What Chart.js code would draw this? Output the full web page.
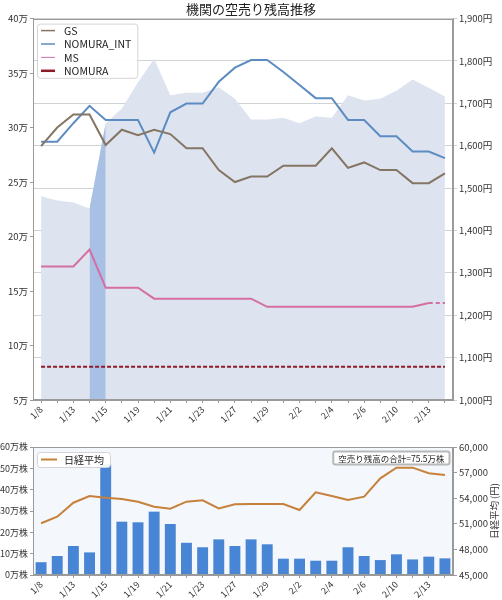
<!DOCTYPE html>
<html><head><meta charset="utf-8">
<script src="https://cdn.jsdelivr.net/npm/chart.js@4.4.1/dist/chart.umd.min.js"></script>
<style>
html,body{margin:0;padding:0;background:#fff;}
#wrap{position:relative;width:502px;height:600px;overflow:hidden;}
canvas{display:block;}
</style></head><body>
<div id="wrap">
<div style="position:absolute;left:0;top:0;width:502px;height:428px"><canvas id="c1" width="502" height="428"></canvas></div>
<div style="position:absolute;left:0;top:430px;width:502px;height:170px"><canvas id="c2" width="502" height="170"></canvas></div>
</div>
<script>
// ---------- data ----------
const dates = ['1/8','1/9','1/13','1/14','1/15','1/16','1/19','1/20','1/21','1/22','1/23','1/26','1/27','1/28','1/29','1/30','2/2','2/3','2/4','2/5','2/6','2/9','2/10','2/12','2/13','2/16'];
const shownTicks = ['1/8','1/13','1/15','1/19','1/21','1/23','1/27','1/29','2/2','2/4','2/6','2/10','2/13'];
// 空売り残高（万株）
const gs        = [28.3,30.0,31.2,31.2,28.4,29.8,29.3,29.8,29.4,28.1,28.1,26.1,25.0,25.5,25.5,26.5,26.5,26.5,28.1,26.3,26.8,26.1,26.1,24.9,24.9,25.8];
const nomuraInt = [28.7,28.7,30.4,32.0,30.7,30.7,30.7,27.7,31.4,32.2,32.2,34.2,35.5,36.2,36.2,35.1,33.9,32.7,32.7,30.7,30.7,29.2,29.2,27.8,27.8,27.2];
const ms        = [17.25,17.25,17.25,18.8,15.3,15.3,15.3,14.3,14.3,14.3,14.3,14.3,14.3,14.3,13.55,13.55,13.55,13.55,13.55,13.55,13.55,13.55,13.55,13.55,13.9,13.9];
const nomura    = [8.05,8.05,8.05,8.05,8.05,8.05,8.05,8.05,8.05,8.05,8.05,8.05,8.05,8.05,8.05,8.05,8.05,8.05,8.05,8.05,8.05,8.05,8.05,8.05,8.05,8.05];
// 株価（円）
const stock     = [1481,1471,1466,1452,1653,1688,1750,1805,1719,1725,1725,1738,1711,1662,1662,1666,1653,1669,1666,1719,1707,1711,1730,1756,1737,1716];
const highlightDates = ['1/14','1/15'];
// 空売り株数（万株）
const volume    = [6.0,8.9,13.6,10.6,51.9,25.0,24.7,29.7,23.9,15.1,13.0,16.7,13.6,16.7,14.4,7.65,7.65,6.7,6.7,13.0,8.9,7.0,9.7,7.3,8.6,7.8];
// 日経平均（円）
const nikkei    = [51060,51830,53470,54260,54060,53910,53590,53000,52770,53590,53750,52810,53280,53320,53320,53320,52620,54690,54260,53790,54180,56330,57580,57580,56920,56720];
const totalShort = 75.5; // 万株
const msDashedFrom = '2/16';

// ---------- setup ----------
const MAN = 10000;
const FONT = "'Noto Sans CJK JP','Noto Sans',sans-serif";
Chart.defaults.font.family = FONT;
Chart.defaults.color = '#333';
Chart.defaults.animation = false;

const AX = '#9a9a9a';
const xTickCb = function(v, i){ const l = dates[i]; return shownTicks.includes(l) ? l : ''; };

const framePlugin = {
  id:'frame',
  beforeDraw(chart, args, o){
    if (!o.bg) return;
    const {ctx, chartArea:a} = chart;
    ctx.save(); ctx.fillStyle = o.bg; ctx.fillRect(a.left, a.top, a.right-a.left, a.bottom-a.top); ctx.restore();
  },
  afterDraw(chart, args, o){
    const {ctx, chartArea:a} = chart;
    ctx.save(); ctx.strokeStyle = o.color || AX; ctx.lineWidth = 1;
    ctx.strokeRect(Math.round(a.left)+0.5, Math.round(a.top)+0.5, Math.round(a.right-a.left)-1, Math.round(a.bottom-a.top)-1);
    if (o.rightTitle){
      ctx.translate(chart.width-8, (a.top+a.bottom)/2);
      ctx.rotate(-Math.PI/2);
      ctx.fillStyle = '#333'; ctx.font = '9.5px ' + FONT;
      ctx.textAlign = 'center'; ctx.textBaseline = 'middle';
      ctx.fillText(o.rightTitle, 0, 0);
    }
    ctx.restore();
  }
};

function roundRect(ctx, x, y, w, h, r){
  ctx.beginPath();
  ctx.moveTo(x+r, y); ctx.lineTo(x+w-r, y); ctx.arcTo(x+w, y, x+w, y+r, r);
  ctx.lineTo(x+w, y+h-r); ctx.arcTo(x+w, y+h, x+w-r, y+h, r);
  ctx.lineTo(x+r, y+h); ctx.arcTo(x, y+h, x, y+h-r, r);
  ctx.lineTo(x, y+r); ctx.arcTo(x, y, x+r, y, r); ctx.closePath();
}

const boxLegendPlugin = {
  id:'boxLegend',
  afterDatasetsDraw(chart, args, o){
    const {ctx, chartArea:a} = chart;
    const items = chart.data.datasets.filter(d => d.inLegend);
    ctx.save();
    ctx.font = o.fontSize + 'px ' + FONT;
    let tw = 0; items.forEach(d => tw = Math.max(tw, ctx.measureText(d.label).width));
    const x = a.left + o.dx, y = a.top + o.dy;
    const w = o.textX + tw + 6, h = o.first*2 + o.row*(items.length-1);
    ctx.fillStyle = 'rgba(255,255,255,0.92)'; ctx.strokeStyle = '#d4d4d4'; ctx.lineWidth = 1;
    roundRect(ctx, x+0.5, y+0.5, w, h, 3); ctx.fill(); ctx.stroke();
    items.forEach((d, i) => {
      const cy = y + o.first + i*o.row;
      ctx.strokeStyle = d.borderColor; ctx.lineWidth = d.legendWidth || d.borderWidth; ctx.setLineDash([]);
      ctx.beginPath(); ctx.moveTo(x+o.lineX0, cy); ctx.lineTo(x+o.lineX1, cy); ctx.stroke();
      ctx.fillStyle = '#222'; ctx.textAlign = 'left'; ctx.textBaseline = 'middle';
      ctx.fillText(d.label, x+o.textX, cy+0.5);
    });
    if (o.note){
      ctx.font = o.noteSize + 'px ' + FONT;
      const nw = ctx.measureText(o.note).width + 10, nh = 13;
      const nx = a.right - 4 - nw, ny = a.top + 4;
      ctx.fillStyle = '#fff'; ctx.strokeStyle = '#b8b8b8';
      roundRect(ctx, nx+0.5, ny+0.5, nw, nh, 2); ctx.fill(); ctx.stroke();
      ctx.fillStyle = '#222'; ctx.textAlign = 'center'; ctx.textBaseline = 'middle';
      ctx.fillText(o.note, nx + nw/2 + 0.5, ny + nh/2 + 1);
    }
    ctx.restore();
  }
};

// ---------- top chart ----------
new Chart(document.getElementById('c1'), {
  type:'line',
  data:{
    labels: dates,
    datasets:[
      {label:'GS', data: gs.map(v=>v*MAN), yAxisID:'y', borderColor:'#857564', borderWidth:2, pointRadius:0, tension:0, order:1, inLegend:true, legendWidth:1.5},
      {label:'NOMURA_INT', data: nomuraInt.map(v=>v*MAN), yAxisID:'y', borderColor:'#5d8cc2', borderWidth:2, pointRadius:0, tension:0, order:2, inLegend:true, legendWidth:1.5},
      {label:'MS', data: ms.map(v=>v*MAN), yAxisID:'y', borderColor:'#d56ea5', borderWidth:2, pointRadius:0, tension:0, order:3, inLegend:true, legendWidth:1,
        segment:{borderDash: c => dates[c.p1DataIndex] === msDashedFrom ? [4,3] : undefined}},
      {label:'NOMURA', data: nomura.map(v=>v*MAN), yAxisID:'y', borderColor:'#8e1a2a', borderWidth:2, borderDash:[4,2], pointRadius:0, tension:0, order:4, inLegend:true, legendWidth:2.5},
      {label:'株価ハイライト', data: stock.map((v,i)=> highlightDates.includes(dates[i]) ? v : null), yAxisID:'y1', fill:'start', backgroundColor:'#a9c0e5', borderWidth:0, pointRadius:0, tension:0, order:19, spanGaps:false},
      {label:'株価', data: stock, yAxisID:'y1', fill:'start', backgroundColor:'#dde4ef', borderWidth:0, pointRadius:0, tension:0, order:20}
    ]
  },
  options:{
    responsive:false, animation:false,
    layout:{padding:0},
    plugins:{
      legend:{display:false}, tooltip:{enabled:false},
      title:{display:true, text:'機関の空売り残高推移', font:{size:13, weight:'normal'}, color:'#222', padding:{top:1, bottom:2}},
      frame:{color:AX},
      boxLegend:{dx:4, dy:5, fontSize:10.5, first:7, row:13.4, lineX0:4, lineX1:18, textX:27}
    },
    scales:{
      x:{type:'category', offset:true,
         grid:{display:true, drawOnChartArea:false, offset:false, tickLength:3, color:AX},
         border:{color:AX},
         ticks:{autoSkip:false, maxRotation:45, minRotation:45, font:{size:9}, padding:1, color:'#333', callback:xTickCb},
         afterFit(s){ s.height = 28; }},
      y:{position:'left', min:50000, max:400000,
         ticks:{stepSize:50000, callback:v => (v/MAN)+'万', font:{size:9.5}, padding:2, color:'#333'},
         grid:{drawOnChartArea:false, tickLength:3, color:AX}, border:{color:AX},
         afterFit(s){ s.width = 33; }},
      y1:{position:'right', min:1000, max:1900,
         ticks:{stepSize:100, callback:v => v.toLocaleString('en-US')+'円', font:{size:9.5}, padding:2, color:'#333'},
         grid:{color:'#cfd3d8', tickLength:4}, border:{color:AX},
         afterFit(s){ s.width = 49; }}
    }
  },
  plugins:[framePlugin, boxLegendPlugin]
});

// ---------- bottom chart ----------
new Chart(document.getElementById('c2'), {
  type:'bar',
  data:{
    labels: dates,
    datasets:[
      {type:'line', label:'日経平均', data: nikkei, yAxisID:'y1', borderColor:'#c7813b', borderWidth:2, pointRadius:0, tension:0, order:0, inLegend:true, legendWidth:2},
      {type:'bar', label:'空売り株数', data: volume.map(v=>v*MAN), yAxisID:'y', backgroundColor:'#4886d5', barPercentage:0.9, categoryPercentage:0.75, order:1}
    ]
  },
  options:{
    responsive:false, animation:false,
    layout:{padding:{top:17}},
    plugins:{
      legend:{display:false}, tooltip:{enabled:false},
      frame:{color:AX, bg:'#f4f7fc', rightTitle:'日経平均 (円)'},
      boxLegend:{dx:4, dy:5, fontSize:10, first:7.5, row:13, lineX0:4, lineX1:20, textX:27,
                 note:'空売り残高の合計=' + totalShort + '万株', noteSize:8.5}
    },
    scales:{
      x:{type:'category', offset:true,
         grid:{display:true, drawOnChartArea:false, offset:false, tickLength:3, color:AX},
         border:{color:AX},
         ticks:{autoSkip:false, maxRotation:45, minRotation:45, font:{size:9}, padding:1, color:'#333', callback:xTickCb},
         afterFit(s){ s.height = 25; }},
      y:{position:'left', min:0, max:600000,
         ticks:{stepSize:100000, callback:v => (v/MAN)+'万株', font:{size:9}, padding:2, color:'#333'},
         grid:{drawOnChartArea:false, tickLength:3, color:AX}, border:{color:AX},
         afterFit(s){ s.width = 33; }},
      y1:{position:'right', min:45000, max:60000,
         ticks:{stepSize:3000, callback:v => v.toLocaleString('en-US'), font:{size:9.5}, padding:2, color:'#333'},
         grid:{drawOnChartArea:false, tickLength:4, color:AX}, border:{color:AX},
         afterFit(s){ s.width = 49; }}
    }
  },
  plugins:[framePlugin, boxLegendPlugin]
});
</script>
</body></html>
